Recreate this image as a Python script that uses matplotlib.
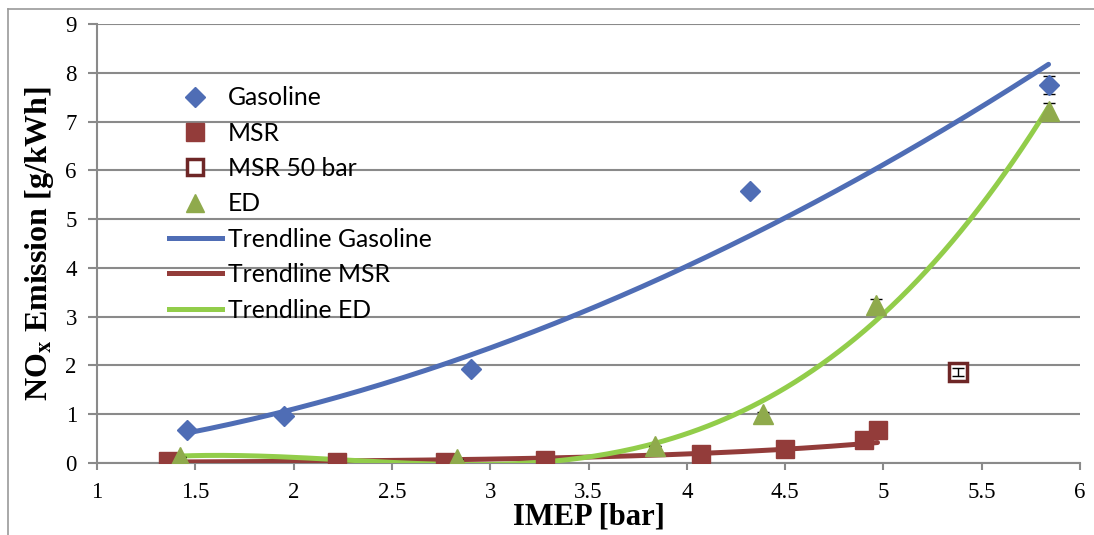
import numpy as np
import matplotlib
matplotlib.use("Agg")
import matplotlib.pyplot as plt
from matplotlib.lines import Line2D

plt.rcParams['mathtext.fontset'] = 'stix'

# IMEP [bar] and NOx [g/kWh] per fuel
gas_x = [1.46, 1.95, 2.90, 4.32, 5.84]
gas_y = [0.68, 0.97, 1.92, 5.58, 7.75]
gas_err = [0.0, 0.0, 0.0, 0.05, 0.19]

msr_x = [1.36, 2.22, 2.77, 3.28, 4.07, 4.50, 4.90, 4.97]
msr_y = [0.05, 0.03, 0.03, 0.07, 0.18, 0.28, 0.47, 0.68]

msr50_x = [5.38]
msr50_y = [1.87]
msr50_err = [0.08]

ed_x = [1.42, 2.83, 3.84, 4.39, 4.96, 5.84]
ed_y = [0.12, 0.08, 0.35, 1.00, 3.24, 7.22]
ed_err = [0.0, 0.0, 0.0, 0.05, 0.12, 0.16]

x_ticks = [1, 1.5, 2, 2.5, 3, 3.5, 4, 4.5, 5, 5.5, 6]
y_ticks = list(range(0, 10))

BLUE = '#4F6DB5'
RED = '#933C3A'
DARKRED = '#6E2626'
OLIVE = '#8FAA4C'
GREEN = '#92CD4A'
GRID = '#8A8A8A'

fig = plt.figure(figsize=(10.94, 5.35), dpi=100)
ax = fig.add_axes([97 / 1094, 1 - 463 / 535, (1080 - 97) / 1094, (463 - 24) / 535])

# chart area border (top and left edges only)
fig.add_artist(Line2D([8 / 1094, 1], [1 - 9 / 535, 1 - 9 / 535], color='#9A9A9A', lw=1.2))
fig.add_artist(Line2D([8 / 1094, 8 / 1094], [0, 1 - 9 / 535], color='#9A9A9A', lw=1.2))


# trendline fits (power, exponential, cubic polynomial)
def power_trend(xs, ys, n=200):
    b, ln_a = np.polyfit(np.log(xs), np.log(ys), 1)
    xx = np.linspace(min(xs), max(xs), n)
    return xx, np.exp(ln_a) * xx ** b


def expo_trend(xs, ys, n=200):
    b, ln_a = np.polyfit(xs, np.log(ys), 1)
    xx = np.linspace(min(xs), max(xs), n)
    return xx, np.exp(ln_a + b * xx)


def poly_trend(xs, ys, deg, n=200):
    coef = np.polyfit(xs, ys, deg)
    xx = np.linspace(min(xs), max(xs), n)
    return xx, np.polyval(coef, xx)


tx, ty = power_trend(gas_x, gas_y)
ax.plot(tx, ty, color=BLUE, lw=3.6, solid_capstyle='round', zorder=3)
tx, ty = expo_trend(msr_x, msr_y)
ax.plot(tx, ty, color=RED, lw=3.6, solid_capstyle='round', zorder=3)
tx, ty = poly_trend(ed_x, ed_y, 3)
ax.plot(tx, ty, color=GREEN, lw=3.6, solid_capstyle='round', zorder=3)

# measured points with error bars
ax.errorbar(gas_x, gas_y, yerr=gas_err, fmt='none', ecolor='black', elinewidth=1, capsize=4, zorder=4)
ax.plot(gas_x, gas_y, 'D', color=BLUE, ms=10.5, mec=BLUE, zorder=5)
ax.plot(msr_x, msr_y, 's', color=RED, ms=13.5, mec=RED, zorder=5)
ax.plot(msr50_x, msr50_y, 's', mfc='white', mec=DARKRED, mew=2.5, ms=13, zorder=5)
ax.errorbar(msr50_x, msr50_y, yerr=msr50_err, fmt='none', ecolor='black', elinewidth=1, capsize=4, zorder=6)
ax.errorbar(ed_x, ed_y, yerr=ed_err, fmt='none', ecolor='black', elinewidth=1, capsize=4, zorder=4)
ax.plot(ed_x, ed_y, '^', color=OLIVE, ms=14, mec=OLIVE, zorder=5)

ax.set_xlim(1, 6)
ax.set_ylim(0, 9)
ax.set_xticks(x_ticks)
ax.set_xticklabels([f'{v:g}' for v in x_ticks])
ax.set_yticks(y_ticks)
ax.grid(axis='y', color=GRID, lw=1.5)
ax.set_axisbelow(True)
for s in ['top', 'right']:
    ax.spines[s].set_visible(False)
for s in ['left', 'bottom']:
    ax.spines[s].set_color(GRID)
    ax.spines[s].set_linewidth(1.5)
ax.tick_params(axis='y', color=GRID, width=1.5, length=6.5, direction='out', pad=8)
ax.tick_params(axis='x', color=GRID, width=1.5, length=5, direction='out', pad=9)
for lab in ax.get_xticklabels() + ax.get_yticklabels():
    lab.set_fontfamily('Liberation Serif')
    lab.set_fontsize(16.5)

ax.set_xlabel('IMEP [bar]', fontfamily='Liberation Serif', fontweight='bold', fontsize=22, labelpad=-1)
ax.set_ylabel(r'NO$_{\mathbf{x}}$ Emission [g/kWh]', fontfamily='Liberation Serif',
              fontweight='bold', fontsize=23, labelpad=7)

handles = [
    Line2D([], [], ls='none', marker='D', color=BLUE, ms=10.5),
    Line2D([], [], ls='none', marker='s', color=RED, ms=13),
    Line2D([], [], ls='none', marker='s', mfc='white', mec=DARKRED, mew=2.5, ms=12),
    Line2D([], [], ls='none', marker='^', color=OLIVE, ms=13),
    Line2D([], [], color=BLUE, lw=3.6),
    Line2D([], [], color=RED, lw=3.6),
    Line2D([], [], color=GREEN, lw=3.6),
]
labels = ['Gasoline', 'MSR', 'MSR 50 bar', 'ED', 'Trendline Gasoline', 'Trendline MSR', 'Trendline ED']
ax.legend(handles, labels, loc='upper left', bbox_to_anchor=(0.073, 0.858), frameon=False,
          prop={'family': 'Lato', 'size': 17.8}, handlelength=2.15, handletextpad=0.25,
          labelspacing=0.5, borderaxespad=0, borderpad=0)

fig.savefig('out.png', dpi=100)
